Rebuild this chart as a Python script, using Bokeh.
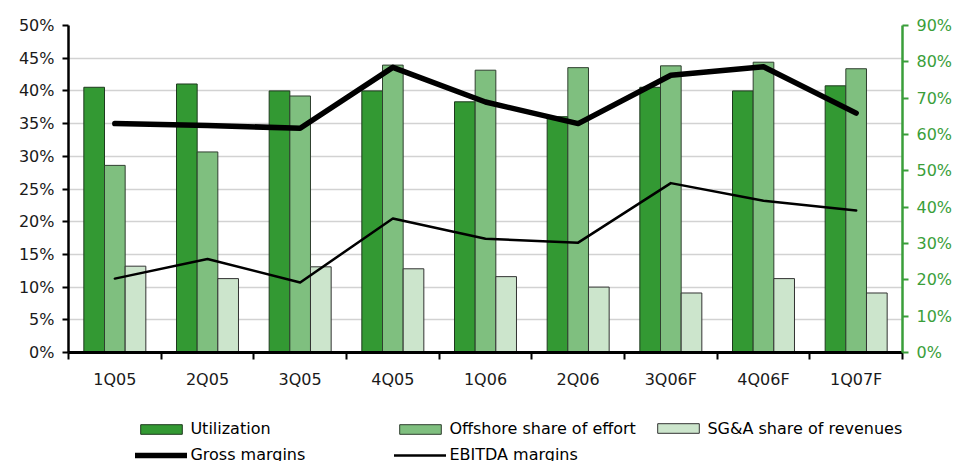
import numpy as np
from bokeh.plotting import figure
from bokeh.layouts import column
from bokeh.models import (Range1d, LinearAxis, FixedTicker, Legend, LegendItem,
                          NumeralTickFormatter, ColumnDataSource)
from bokeh.embed import file_html
from bokeh.resources import INLINE

# Quarterly operating metrics
quarters = ["1Q05", "2Q05", "3Q05", "4Q05", "1Q06", "2Q06", "3Q06F", "4Q06F", "1Q07F"]
utilization = [73.0, 73.9, 72.0, 72.0, 69.0, 64.9, 73.0, 72.0, 73.4]          # right axis, %
offshore_share = [51.5, 55.2, 70.6, 79.1, 77.7, 78.4, 78.9, 79.9, 78.1]       # right axis, %
sga_share = [13.2, 11.3, 13.1, 12.8, 11.6, 10.0, 9.1, 11.3, 9.1]              # left axis, %
gross_margins = [35.0, 34.7, 34.3, 43.6, 38.3, 35.0, 42.4, 43.7, 36.6]        # left axis, %
ebitda_margins = [11.3, 14.3, 10.7, 20.5, 17.4, 16.8, 25.9, 23.2, 21.7]       # left axis, %
left_ticks = [0, 5, 10, 15, 20, 25, 30, 35, 40, 45, 50]
right_ticks = [0, 10, 20, 30, 40, 50, 60, 70, 80, 90]

FONT = "DejaVu Sans"
DARK = "#339933"
MID = "#7fbf7f"
LIGHT = "#cce5cc"
AXIS_GREEN = "#3a9e3a"

n = len(quarters)
centers = np.arange(n) + 0.5
bw = 0.223

src = ColumnDataSource(dict(
    x=centers,
    x_util=centers - bw,
    x_off=centers,
    x_sga=centers + bw,
    util=[v / 100 for v in utilization],
    off=[v / 100 for v in offshore_share],
    sga=[v / 100 for v in sga_share],
    gross=[v / 100 for v in gross_margins],
    ebitda=[v / 100 for v in ebitda_margins],
))

p = figure(width=955, height=400, output_backend="svg", toolbar_location=None,
           x_range=Range1d(0, n), y_range=Range1d(0, 0.5),
           min_border_left=68, min_border_right=51, min_border_top=25,
           min_border_bottom=48, y_axis_location=None, x_axis_location=None)
p.outline_line_color = None
p.background_fill_color = "white"
p.border_fill_color = "white"
p.extra_y_ranges = {"right": Range1d(0, 0.9)}

# axes
yl = LinearAxis(ticker=FixedTicker(ticks=[t / 100 for t in left_ticks]),
                formatter=NumeralTickFormatter(format="0%"))
yl.axis_line_width = 2.5
yl.axis_line_color = "black"
yl.major_tick_line_width = 2
yl.major_tick_out = 6
yl.major_tick_in = 0
yl.minor_tick_line_color = None
yl.major_label_standoff = 8
yl.major_label_text_font = FONT
yl.major_label_text_font_size = "16px"
yl.major_label_text_color = "#1a1a1a"
p.add_layout(yl, "left")

yr = LinearAxis(y_range_name="right",
                ticker=FixedTicker(ticks=[t / 100 for t in right_ticks]),
                formatter=NumeralTickFormatter(format="0%"))
yr.axis_line_width = 2.5
yr.axis_line_color = AXIS_GREEN
yr.major_tick_line_color = AXIS_GREEN
yr.major_tick_line_width = 2
yr.major_tick_out = 6
yr.major_tick_in = 0
yr.minor_tick_line_color = None
yr.major_label_standoff = 8
yr.major_label_text_font = FONT
yr.major_label_text_font_size = "16px"
yr.major_label_text_color = AXIS_GREEN
p.add_layout(yr, "right")

xb = LinearAxis(ticker=FixedTicker(ticks=list(centers), minor_ticks=list(range(n + 1))))
xb.major_label_overrides = {float(c): q for c, q in zip(centers, quarters)}
xb.axis_line_width = 3
xb.axis_line_color = "black"
xb.major_tick_line_color = None
xb.minor_tick_line_color = "black"
xb.minor_tick_line_width = 2
xb.minor_tick_out = 7
xb.minor_tick_in = 0
xb.major_label_standoff = 10
xb.major_label_text_font = FONT
xb.major_label_text_font_size = "16px"
xb.major_label_text_color = "#1a1a1a"
p.add_layout(xb, "below")

p.xgrid.visible = False
p.ygrid.ticker = FixedTicker(ticks=[t / 100 for t in left_ticks])
p.ygrid.grid_line_color = "#d2d2d2"
p.ygrid.grid_line_width = 1.5

bar_styles = [
    dict(fill_color=DARK, line_color="#1e3a1e", line_width=1),
    dict(fill_color=MID, line_color="#2f3f2f", line_width=1),
    dict(fill_color=LIGHT, line_color="#333333", line_width=1),
]
line_styles = [
    dict(line_color="black", line_width=5.5, line_cap="round", line_join="round"),
    dict(line_color="black", line_width=2.5, line_cap="round", line_join="round"),
]

# bars
p.vbar(x="x_util", top="util", width=bw, bottom=0, source=src, y_range_name="right", **bar_styles[0])
p.vbar(x="x_off", top="off", width=bw, bottom=0, source=src, y_range_name="right", **bar_styles[1])
p.vbar(x="x_sga", top="sga", width=bw, bottom=0, source=src, **bar_styles[2])

# margin lines
p.line(x="x", y="gross", source=src, **line_styles[0])
p.line(x="x", y="ebitda", source=src, **line_styles[1])

# legend strip underneath the chart (key glyphs share the data but stay hidden)
leg = figure(width=955, height=61, output_backend="svg", toolbar_location=None,
             x_range=Range1d(0, 1), y_range=Range1d(0, 1),
             min_border_left=0, min_border_right=0, min_border_top=0, min_border_bottom=0,
             x_axis_location=None, y_axis_location=None)
leg.outline_line_color = None
leg.grid.visible = False
leg.border_fill_color = "white"

k_util = leg.vbar(x="x_util", top="util", width=bw, source=src, visible=False, **bar_styles[0])
k_off = leg.vbar(x="x_off", top="off", width=bw, source=src, visible=False, **bar_styles[1])
k_sga = leg.vbar(x="x_sga", top="sga", width=bw, source=src, visible=False, **bar_styles[2])
k_gross = leg.line(x="x", y="gross", source=src, visible=False, **line_styles[0])
k_ebitda = leg.line(x="x", y="ebitda", source=src, visible=False, **line_styles[1])


def make_legend(items, x, y):
    lg = Legend(items=items, location=(x, y), orientation="vertical")
    lg.glyph_width = 52
    lg.glyph_height = 12
    lg.label_height = 12
    lg.spacing = 7
    lg.padding = 0
    lg.margin = 0
    lg.label_standoff = 3
    lg.label_text_font = FONT
    lg.label_text_font_size = "16px"
    lg.label_text_color = "black"
    lg.border_line_color = None
    lg.background_fill_alpha = 0
    return lg


leg.add_layout(make_legend([LegendItem(label="Utilization", renderers=[k_util]),
                            LegendItem(label="Gross margins", renderers=[k_gross])], 67.4, -3))
leg.add_layout(make_legend([LegendItem(label="Offshore share of effort", renderers=[k_off]),
                            LegendItem(label="EBITDA margins", renderers=[k_ebitda])], 326.4, -3))
leg.add_layout(make_legend([LegendItem(label="SG&A share of revenues", renderers=[k_sga])], 584.4, 23.5))

with open("out.html", "w") as f:
    f.write(file_html(column(p, leg, spacing=0), INLINE))
